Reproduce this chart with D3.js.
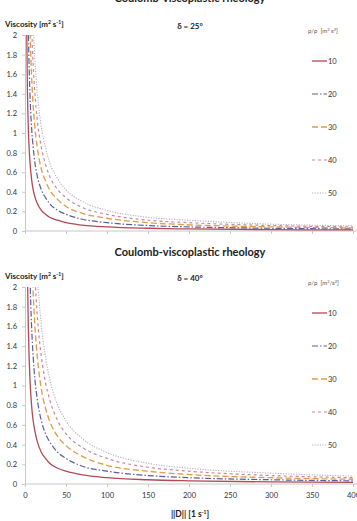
<!DOCTYPE html>
<html>
<head>
<meta charset="utf-8">
<script src="https://cdn.jsdelivr.net/npm/d3@7"></script>
<style>
  body{margin:0;background:#fff;}
  svg{display:block;font-family:Lato,"Open Sans",sans-serif;}
</style>
</head>
<body>
<div id="chart"></div>
<script>
/* two Coulomb-viscoplastic viscosity panels (delta 25 / 40) */

const SHEAR = [2,3,4,5,6,8,10,12,15,20,25,30,40,50,70,100,150,200,300,400];
const P_LABELS = ["10","20","30","40","50"];
const Y_TICKS = [0,0.2,0.4,0.6,0.8,1,1.2,1.4,1.6,1.8,2];
const X_TICKS = [0,50,100,150,200,250,300,350,400];

// delta = 25 deg
const VISC_25_10 = [2.12,1.41,1.06,0.85,0.71,0.53,0.42,0.35,0.28,0.21,0.17,0.14,0.11,0.085,0.060,0.042,0.028,0.021,0.014,0.011];
const VISC_25_20 = [4.23,2.82,2.11,1.69,1.41,1.06,0.85,0.70,0.56,0.42,0.34,0.28,0.21,0.17,0.12,0.085,0.056,0.042,0.028,0.021];
const VISC_25_30 = [6.34,4.23,3.17,2.54,2.11,1.59,1.27,1.06,0.85,0.63,0.51,0.42,0.32,0.25,0.18,0.13,0.085,0.063,0.042,0.032];
const VISC_25_40 = [8.45,5.63,4.23,3.38,2.82,2.11,1.69,1.41,1.13,0.85,0.68,0.56,0.42,0.34,0.24,0.17,0.11,0.085,0.056,0.042];
const VISC_25_50 = [10.6,7.04,5.28,4.23,3.52,2.64,2.11,1.76,1.41,1.06,0.85,0.70,0.53,0.42,0.30,0.21,0.14,0.11,0.070,0.053];

// delta = 40 deg
const VISC_40_10 = [3.21,2.14,1.61,1.29,1.07,0.80,0.64,0.54,0.43,0.32,0.26,0.21,0.16,0.13,0.092,0.064,0.043,0.032,0.021,0.016];
const VISC_40_20 = [6.43,4.29,3.21,2.57,2.14,1.61,1.29,1.07,0.86,0.64,0.51,0.43,0.32,0.26,0.18,0.13,0.086,0.064,0.043,0.032];
const VISC_40_30 = [9.64,6.43,4.82,3.86,3.21,2.41,1.93,1.61,1.29,0.96,0.77,0.64,0.48,0.39,0.28,0.19,0.13,0.096,0.064,0.048];
const VISC_40_40 = [12.9,8.57,6.43,5.14,4.29,3.21,2.57,2.14,1.71,1.29,1.03,0.86,0.64,0.51,0.37,0.26,0.17,0.13,0.086,0.064];
const VISC_40_50 = [16.1,10.7,8.04,6.43,5.36,4.02,3.21,2.68,2.14,1.61,1.29,1.07,0.80,0.64,0.46,0.32,0.21,0.16,0.11,0.080];

const STYLES = [
  {color:"#b04a55", dash:null,          w:1.3},
  {color:"#5b5f9c", dash:"6,2,1.5,2",   w:1.2},
  {color:"#e39a45", dash:"6,3",         w:1.3},
  {color:"#c48a9c", dash:"3,3",         w:1.2},
  {color:"#b9abc9", dash:"1.2,1.4",     w:1.1}
];

const W = 357, H = 521;
const svg = d3.select("#chart").append("svg").attr("width",W).attr("height",H);
const x = d3.scaleLinear([0,400],[25,353]);

function panel(id, top, bottom, delta, series, legendTitle, titleY, showXLabels){
  const y = d3.scaleLinear([0,2],[bottom,top]);
  const g = svg.append("g");

  g.append("clipPath").attr("id",id)
    .append("rect").attr("x",x(0)).attr("y",y(2)).attr("width",W-x(0)).attr("height",y(0)-y(2));

  /* title */
  g.append("text").attr("x",190).attr("y",titleY).attr("text-anchor","middle")
    .attr("font-size",11).attr("font-weight","bold").attr("fill","#222")
    .text("Coulomb-viscoplastic rheology");

  g.append("text").attr("x",5).attr("y",top-8).attr("font-size",8).attr("font-weight","bold").attr("fill","#222")
    .html("Viscosity [m<tspan dy='-3' font-size='5'>2</tspan><tspan dy='3'> s</tspan><tspan dy='-3' font-size='5'>-1</tspan><tspan dy='3'>]</tspan>");

  g.append("text").attr("x",190).attr("y",top-6).attr("text-anchor","middle")
    .attr("font-size",8).attr("font-weight","bold").attr("fill","#222")
    .text(`δ = ${delta}°`);

  /* axes */
  const ya = g.append("g").attr("transform",`translate(${x(0)},0)`)
    .call(d3.axisLeft(y).tickValues(Y_TICKS).tickSize(3).tickPadding(5)
      .tickFormat(d=>String(+d.toFixed(1))));
  const xa = g.append("g").attr("transform",`translate(0,${y(0)})`)
    .call(d3.axisBottom(x).tickValues(X_TICKS).tickSize(3).tickPadding(6)
      .tickFormat(showXLabels ? d=>d : ()=>""));
  [ya,xa].forEach(a=>{
    a.select(".domain").attr("stroke","#c8c8c8");
    a.selectAll(".tick line").attr("stroke","#c8c8c8");
    a.selectAll("text").attr("font-size",7.5).attr("fill","#333").attr("font-family","Lato,sans-serif");
  });
  xa.select(".domain").attr("d",`M${x(0)},0H${W}`);

  /* curves */
  const line = d3.line().x((d,i)=>x(SHEAR[i])).y(d=>y(d)).curve(d3.curveMonotoneX);
  g.append("g").attr("clip-path",`url(#${id})`)
    .selectAll("path").data(series).join("path")
      .attr("d",line).attr("fill","none")
      .attr("stroke",(d,i)=>STYLES[i].color)
      .attr("stroke-width",(d,i)=>STYLES[i].w)
      .attr("stroke-dasharray",(d,i)=>STYLES[i].dash);

  /* legend */
  const lg = g.append("g");
  lg.append("text").attr("x",308).attr("y",top-2).attr("font-size",6).attr("fill","#555")
    .html(legendTitle);
  const item = lg.selectAll("g.it").data(P_LABELS).join("g").attr("class","it")
    .attr("transform",(d,i)=>`translate(312,${top+26+i*33})`);
  item.append("line").attr("x1",0).attr("x2",15).attr("y1",0).attr("y2",0)
    .attr("stroke",(d,i)=>STYLES[i].color).attr("stroke-width",(d,i)=>STYLES[i].w)
    .attr("stroke-dasharray",(d,i)=>STYLES[i].dash);
  item.append("text").attr("x",16).attr("y",2.5).attr("font-size",7.5).attr("fill","#333").text(d=>d);
}

panel("c25", 35, 231, 25,
  [VISC_25_10,VISC_25_20,VISC_25_30,VISC_25_40,VISC_25_50],
  "p/ρ &#160;[m<tspan dy='-2' font-size='4'>2</tspan><tspan dy='2'> s</tspan><tspan dy='-2' font-size='4'>2</tspan><tspan dy='2'>]</tspan>",
  2, false);

panel("c40", 287, 484, 40,
  [VISC_40_10,VISC_40_20,VISC_40_30,VISC_40_40,VISC_40_50],
  "p/ρ &#160;[m<tspan dy='-2' font-size='4'>2</tspan><tspan dy='2'>/s</tspan><tspan dy='-2' font-size='4'>2</tspan><tspan dy='2'>]</tspan>",
  256, true);

svg.append("text").attr("x",190).attr("y",517).attr("text-anchor","middle")
  .attr("font-size",8.5).attr("font-weight","bold").attr("fill","#222")
  .html("||D|| [1 s<tspan dy='-3' font-size='5'>-1</tspan><tspan dy='3'>]</tspan>");
</script>
</body>
</html>
